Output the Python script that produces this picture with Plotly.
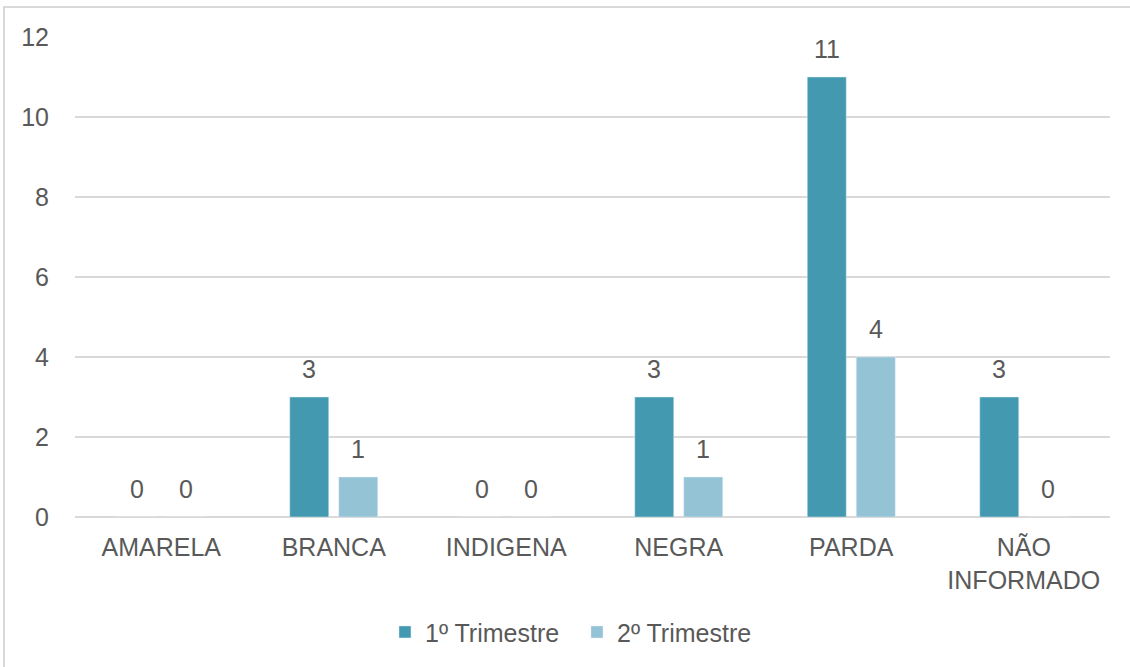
import plotly.graph_objects as go

categories = ["AMARELA", "BRANCA", "INDIGENA", "NEGRA", "PARDA", "NÃO<br>INFORMADO"]
trim1 = [0, 3, 0, 3, 11, 3]
trim2 = [0, 1, 0, 1, 4, 0]
series_names = ["1º Trimestre", "2º Trimestre"]
colors = ["#4299b0", "#93c3d5"]
text_color = "#595959"
FS = 25

fig = go.Figure()
for name, vals, col in zip(series_names, [trim1, trim2], colors):
    fig.add_trace(go.Bar(x=categories, y=vals, name=name, marker_color=col))

# value labels above bars
for vals, shift in zip([trim1, trim2], [-24.5, 24.5]):
    for cat, v in zip(categories, vals):
        fig.add_annotation(x=cat, y=v, text=str(v), showarrow=False,
                           xshift=shift, yshift=12, yanchor="bottom",
                           font=dict(size=FS, color=text_color))

L, R, T, B = 75, 20, 37, 150
W, H = 1130, 667
pw, ph = W - L - R, H - T - B

fig.update_layout(
    width=W, height=H,
    margin=dict(l=L, r=R, t=T, b=B, autoexpand=False),
    barmode="group", bargap=0.432, bargroupgap=0.204,
    plot_bgcolor="white", paper_bgcolor="white",
    font=dict(family="Liberation Sans, Arial, sans-serif", size=FS, color=text_color),
    legend=dict(orientation="h", x=0.485, xanchor="center", y=-0.24, yanchor="middle",
                font=dict(size=FS, color=text_color), itemwidth=30, entrywidth=147),
    showlegend=True,
    shapes=[dict(type="rect", xref="paper", yref="paper",
                 x0=(4 - L) / pw, x1=(W + 10 - L) / pw,
                 y0=-(B + 10) / ph, y1=(ph + T - 7) / ph,
                 line=dict(color="#d9d9d9", width=2), layer="below")],
)
fig.update_xaxes(showline=False, ticks="", ticklabelstandoff=13,
                 tickfont=dict(size=FS, color=text_color))
fig.update_yaxes(range=[0, 12], dtick=2, showgrid=True, gridcolor="#d9d9d9", gridwidth=1.5,
                 zeroline=True, zerolinecolor="#d9d9d9", zerolinewidth=1.5,
                 ticks="", ticklabelstandoff=25, tickfont=dict(size=FS, color=text_color))

fig.write_html("out.html", config={"displayModeBar": False},
               post_script="document.body.style.margin='0';")
